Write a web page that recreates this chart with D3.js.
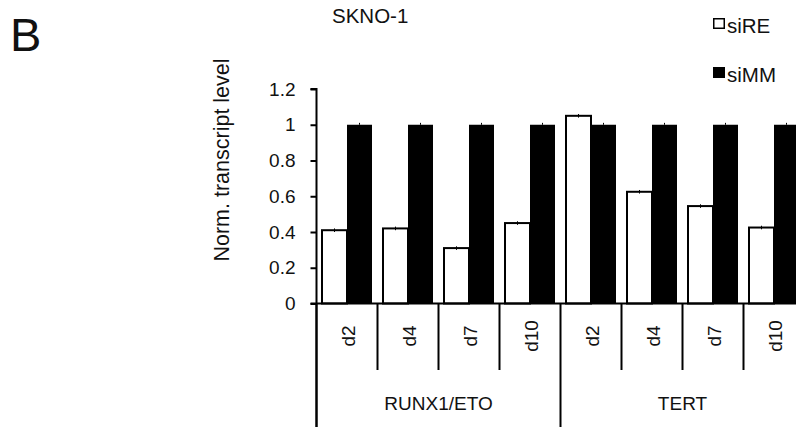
<!DOCTYPE html>
<html>
<head>
<meta charset="utf-8">
<script src="https://cdn.jsdelivr.net/npm/d3@7"></script>
<style>
    body { margin: 0; background: white; }
    svg { display: block; font-family: Arial, "Liberation Sans", sans-serif; }
</style>
</head>
<body>
<div id="chart"></div>
<script>
// chart values
const genes = ["RUNX1/ETO", "TERT"];
const days = ["d2", "d4", "d7", "d10"];
const series = ["siRE", "siMM"];
const siRE = [0.41, 0.42, 0.31, 0.45, 1.05, 0.625, 0.545, 0.425];
const siMM = [1, 1, 1, 1, 1, 1, 1, 1];
const errRE = [0.01, 0.01, 0.01, 0.01, 0.01, 0.01, 0.01, 0.01];
const errMM = [0.005, 0.005, 0.005, 0.005, 0.005, 0.005, 0.005, 0.005];
const yTicks = [0, 0.2, 0.4, 0.6, 0.8, 1, 1.2];

const width = 796, height = 427;
const tickFont = 19;      // axis ticks, day + gene labels
const labelFont = 21.5;   // y axis title
const titleFont = 20.5;   // chart title + legend

const svg = d3.select("#chart").append("svg")
    .attr("width", width)
    .attr("height", height);

// categories: gene x day
const cats = [];
genes.forEach(g => days.forEach(d => cats.push(g + "|" + d)));

const rows = cats.map((c, i) => ({
    key: c,
    gene: c.split("|")[0],
    day: c.split("|")[1],
    siRE: siRE[i], siMM: siMM[i],
    errRE: errRE[i], errMM: errMM[i]
}));

const x0 = 316.5, step = 61;
const x = d3.scaleBand()
    .domain(cats)
    .range([x0, x0 + step * cats.length])
    .paddingInner(0)
    .paddingOuter(0);

const xs = d3.scaleBand()
    .domain(series)
    .range([5.5, step - 5.5])
    .padding(0);

const y = d3.scaleLinear()
    .domain([0, 1.2])
    .range([303.5, 89]);

// bars
const grp = svg.append("g").selectAll("g")
    .data(rows)
    .join("g")
    .attr("transform", d => `translate(${x(d.key)},0)`);

grp.append("rect")
    .attr("x", xs("siRE"))
    .attr("y", d => y(d.siRE))
    .attr("width", xs.bandwidth())
    .attr("height", d => y(0) - y(d.siRE))
    .attr("fill", "white")
    .attr("stroke", "black")
    .attr("stroke-width", 2);

grp.append("rect")
    .attr("x", xs("siMM"))
    .attr("y", d => y(d.siMM))
    .attr("width", xs.bandwidth())
    .attr("height", d => y(0) - y(d.siMM))
    .attr("fill", "black");

// error bars
grp.append("line")
    .attr("x1", xs("siRE") + xs.bandwidth() / 2)
    .attr("x2", xs("siRE") + xs.bandwidth() / 2)
    .attr("y1", d => y(d.siRE + d.errRE))
    .attr("y2", d => y(d.siRE - d.errRE))
    .attr("stroke", "black")
    .attr("stroke-width", 1);

grp.append("line")
    .attr("x1", xs("siMM") + xs.bandwidth() / 2)
    .attr("x2", xs("siMM") + xs.bandwidth() / 2)
    .attr("y1", d => y(d.siMM + d.errMM) - 1)
    .attr("y2", d => y(d.siMM))
    .attr("stroke", "black")
    .attr("stroke-width", 1);

// y axis
const yAxis = svg.append("g")
    .attr("transform", `translate(${x0},0)`)
    .call(d3.axisLeft(y).tickValues(yTicks).tickSize(6).tickPadding(15).tickFormat(d3.format("")));
yAxis.select(".domain").attr("stroke-width", 2).attr("d", `M-6,${y(1.2)}H0V${height}`);
yAxis.selectAll(".tick line").attr("stroke-width", 2);
yAxis.selectAll(".tick text")
    .attr("font-size", tickFont)
    .attr("font-family", "Arial, 'Liberation Sans', sans-serif")
    .attr("fill", "#111");

// x axis baseline
svg.append("line")
    .attr("x1", x0 - 6).attr("x2", width)
    .attr("y1", y(0)).attr("y2", y(0))
    .attr("stroke", "black").attr("stroke-width", 2);

// category separators: short between days, long between genes
const bounds = cats.map(c => x(c)).concat([x0 + step * cats.length]);
svg.append("g").selectAll("line")
    .data(bounds)
    .join("line")
    .attr("x1", d => d).attr("x2", d => d)
    .attr("y1", y(0))
    .attr("y2", (d, i) => i % days.length === 0 ? height : 370)
    .attr("stroke", "black")
    .attr("stroke-width", 2);

// day labels
svg.append("g").selectAll("text")
    .data(rows)
    .join("text")
    .attr("transform", d => `translate(${x(d.key) + step / 2 + 7.5},336) rotate(-90)`)
    .attr("text-anchor", "middle")
    .attr("font-size", tickFont)
    .attr("fill", "#111")
    .text(d => d.day);

// gene labels
svg.append("g").selectAll("text")
    .data(genes)
    .join("text")
    .attr("x", (g, i) => x0 + step * days.length * (i + 0.5))
    .attr("y", 410)
    .attr("text-anchor", "middle")
    .attr("font-size", tickFont)
    .attr("fill", "#111")
    .text(g => g);

// y label
svg.append("text")
    .attr("transform", "translate(229,160) rotate(-90)")
    .attr("text-anchor", "middle")
    .attr("font-size", labelFont)
    .attr("fill", "#111")
    .text("Norm. transcript level");

// title
svg.append("text")
    .attr("x", 332).attr("y", 23)
    .attr("font-size", titleFont)
    .attr("fill", "#111")
    .text("SKNO-1");

// panel letter
svg.append("text")
    .attr("x", 10).attr("y", 51)
    .attr("font-size", 47)
    .attr("fill", "#111")
    .text("B");

// legend
const legend = svg.append("g").selectAll("g")
    .data(series)
    .join("g")
    .attr("transform", (d, i) => `translate(713,${18 + i * 49})`);
legend.append("rect")
    .attr("x", 0.75).attr("y", 0.75)
    .attr("width", 10.5).attr("height", 9.5)
    .attr("fill", (d, i) => i === 0 ? "white" : "black")
    .attr("stroke", "black")
    .attr("stroke-width", 1.5);
legend.append("text")
    .attr("x", 14).attr("y", 14.5)
    .attr("font-size", titleFont)
    .attr("fill", "#111")
    .text(d => d);
</script>
</body>
</html>
